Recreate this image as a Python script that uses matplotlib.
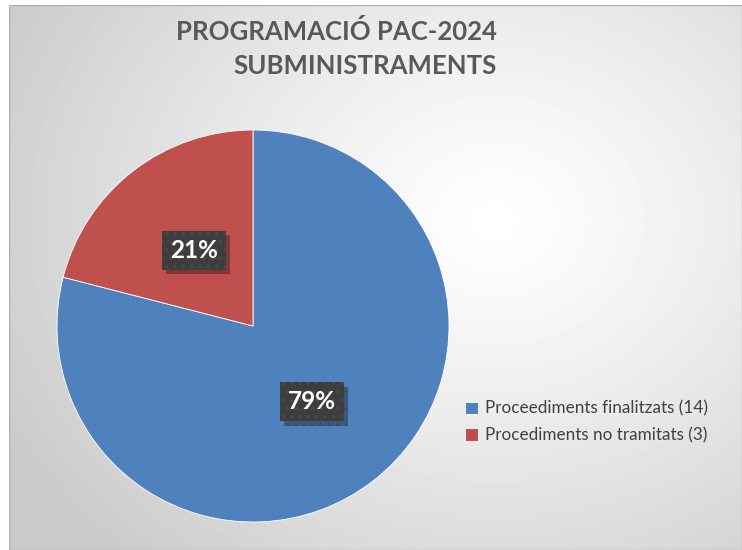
import matplotlib.pyplot as plt
import numpy as np
from matplotlib import patheffects

# Données (percentatges mostrats al gràfic)
categories = ['Proceediments finalitzats (14)', 'Procediments no tramitats (3)']
valors = [79, 21]
colors = ['#4f81bd', '#c0504d']
titol = 'PROGRAMACIÓ PAC-2024\nSUBMINISTRAMENTS'

plt.rcParams['font.family'] = ['Lato', 'DejaVu Sans']

W, H = 742, 550
fig = plt.figure(figsize=(W / 100, H / 100), dpi=100)

# Fons amb degradat radial
ax_bg = fig.add_axes([9 / W, 0, 1 - 9 / W, (H - 5) / H], zorder=-10)
yy, xx = np.mgrid[5:H, 9:W]
d = np.sqrt((xx - 495) ** 2 + ((yy - 220) * 1.2) ** 2)
c = 1 - 0.21 * np.clip(d / 560, 0, 1) ** 1.2
ax_bg.imshow(c, cmap='gray', vmin=0, vmax=1, aspect='auto', interpolation='bilinear')
ax_bg.set_axis_off()
ax_bg.add_patch(plt.Rectangle((0, 0), 1, 1, transform=ax_bg.transAxes, fill=False,
                              edgecolor='#b0b0b0', linewidth=1))

# Pastís
cx, cy, r = 253, 326, 196
ax = fig.add_axes([(cx - r) / W, (H - cy - r) / H, 2 * r / W, 2 * r / H])
wedges, textes, pcts = ax.pie(valors, colors=colors, startangle=90, counterclock=False,
                              autopct='%.0f%%', pctdistance=0.49, radius=1,
                              wedgeprops=dict(edgecolor='white', linewidth=0.6))
ax.set_xlim(-1, 1)
ax.set_ylim(-1, 1)
ax.set_aspect('auto')

# Etiquetes amb caixa fosca i ombra
for t in pcts:
    t.set_color('white')
    t.set_fontsize(17.5)
    t.set_fontweight('bold')
    t.set_bbox(dict(boxstyle='square,pad=0.33', facecolor='#3d3d3d', edgecolor='#4a4a4a',
                    hatch='..', linewidth=0))
    t.get_bbox_patch().set_path_effects([
        patheffects.withSimplePatchShadow(offset=(3, -3), shadow_rgbFace='black', alpha=0.3)])

# Títol
fig.text(497 / W, 1 - 48 / H, titol, ha='right', va='center', multialignment='right',
         fontsize=18.5, fontweight='bold', color='#595959', linespacing=1.5)

# Llegenda
fig.legend(wedges, categories, loc='center left', bbox_to_anchor=(450 / W, 1 - 422 / H),
           frameon=False, fontsize=12.3, labelcolor='#404040', handlelength=0.75,
           handleheight=0.75, handletextpad=0.4, labelspacing=0.6)

fig.savefig('out.png', dpi=100)
